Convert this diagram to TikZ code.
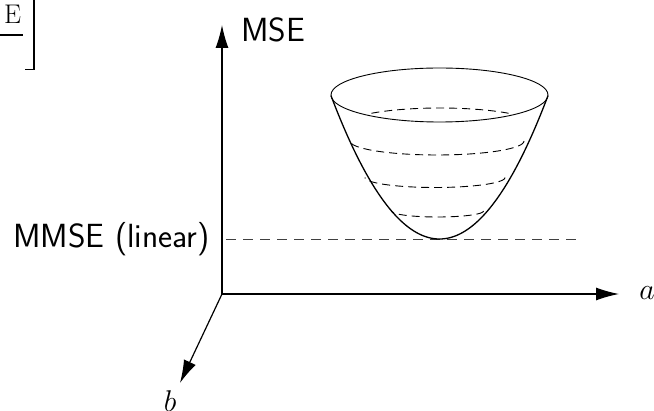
\RequirePackage{fix-cm}
\documentclass[tikz,border=0pt]{standalone}
\usetikzlibrary{arrows.meta}
\begin{document}
\begin{tikzpicture}[x=1pt,y=-1pt,
  axis/.style={line width=1.2pt,-{Latex[length=23pt,width=13pt]}},
  guide/.style={dashed,dash pattern=on 10pt off 7pt,line width=0.9pt,black!75},
  contour/.style={dashed,dash pattern=on 8pt off 5pt,line width=0.9pt},
  sidelab/.style={font=\fontsize{33.5}{40}\selectfont\sffamily,inner sep=0pt},
  mathlab/.style={font=\fontsize{30}{36}\selectfont,inner sep=0pt}]
\useasboundingbox (0,0) rectangle (654,411);
\clip (0,0) rectangle (654,411);
% fragment at top left
\node[inner sep=0pt,font=\fontsize{27}{30}\selectfont] (efrag) at (12.5,14.5) {E};
\coordinate (barL) at (-2,35);
\coordinate (barR) at (23,35);
\draw[line width=1.3pt] (barL) -- (barR);
\coordinate (brT) at (34,-5);
\coordinate (brB) at (34,69.5);
\coordinate (brH) at (25,69.5);
\draw[line width=1.5pt] (brT) -- (brB) -- (brH);
% axes
\coordinate (O) at (222,294);
\coordinate (ytip) at (222,25);
\coordinate (xtip) at (619,294);
\coordinate (btip) at (180,383);
\draw[axis] (O) -- (ytip);
\draw[axis] (O) -- (xtip);
\draw[axis] (O) -- (btip);
\node[sidelab,anchor=west] (mse) at (241,30) {MSE};
\node[mathlab] (alab) at (647,293) {$a$};
\node[mathlab] (blab) at (170,401) {$b$};
% MMSE level
\node[sidelab,anchor=east] (mmse) at (210,239) {MMSE (linear)};
\coordinate (gL) at (226,239);
\coordinate (gR) at (582,239);
\draw[guide] (gL) -- (gR);
% bowl
\draw[line width=0.9pt] (439.5,95) ellipse [x radius=108.5pt, y radius=27pt];
\draw[line width=1.3pt] plot[domain=331:548,samples=120] (\x,{239-0.01217*(\x-439.5)^2});
% contours
\draw[contour] plot[domain=-135:-45,samples=40] ({440+97*cos(\x)},{126+18*sin(\x)});
\draw[contour] plot[domain=0:180,samples=50] ({437+87*cos(\x)},{141+14*sin(\x)});
\draw[contour] plot[domain=0:180,samples=50] ({435+70*cos(\x)},{177.5+10*sin(\x)});
\draw[contour] plot[domain=0:180,samples=50] ({437.5+46*cos(\x)},{211+6*sin(\x)});
\end{tikzpicture}
\end{document}
